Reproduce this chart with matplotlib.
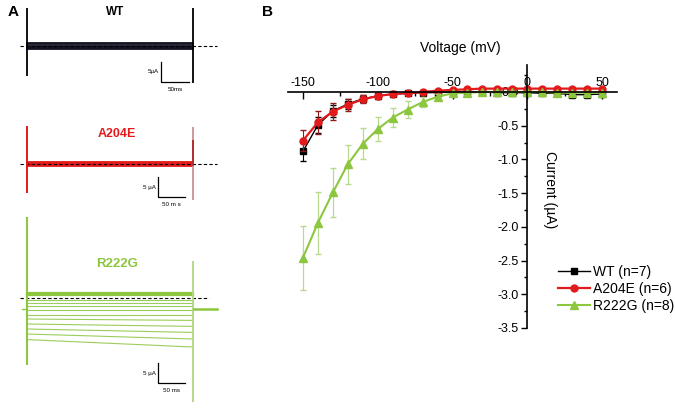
import numpy as np
import matplotlib.pyplot as plt
from matplotlib.ticker import MultipleLocator

plt.rcParams['font.family'] = ['Liberation Sans', 'DejaVu Sans']
plt.rcParams['axes.unicode_minus'] = False

# ---- panel B : I-V data (uA) ----
voltage = [-150, -140, -130, -120, -110, -100, -90, -80, -70, -60, -50,
           -40, -30, -20, -10, 0, 10, 20, 30, 40, 50]
wt_mean = [-0.88, -0.49, -0.28, -0.18, -0.10, -0.06, -0.03, -0.02, -0.01, -0.01, 0.0,
           0.0, 0.0, -0.01, -0.01, -0.01, -0.02, -0.02, -0.04, -0.04, -0.03]
wt_sem = [0.14, 0.12, 0.09, 0.07, 0.05, 0.03, 0.02, 0.02, 0.01, 0.01, 0.01,
          0.01, 0.01, 0.01, 0.01, 0.01, 0.01, 0.01, 0.01, 0.01, 0.01]
a204e_mean = [-0.72, -0.45, -0.29, -0.19, -0.11, -0.06, -0.03, -0.02, 0.0, 0.02, 0.03,
              0.04, 0.05, 0.05, 0.05, 0.05, 0.05, 0.05, 0.05, 0.05, 0.05]
a204e_sem = [0.15, 0.17, 0.12, 0.09, 0.06, 0.04, 0.02, 0.02, 0.01, 0.01, 0.01,
             0.01, 0.01, 0.01, 0.01, 0.01, 0.01, 0.01, 0.01, 0.01, 0.01]
r222g_mean = [-2.46, -1.94, -1.49, -1.07, -0.77, -0.55, -0.38, -0.26, -0.15, -0.07, -0.02,
              -0.01, 0.0, 0.0, 0.0, 0.0, 0.0, -0.01, -0.01, -0.01, -0.01]
r222g_sem = [0.47, 0.46, 0.36, 0.29, 0.23, 0.18, 0.14, 0.12, 0.07, 0.04, 0.02,
             0.01, 0.01, 0.01, 0.01, 0.01, 0.01, 0.01, 0.01, 0.01, 0.01]

# ---- panel A : raw current traces (uA), 300 ms voltage step ----
step_on, step_off = 0, 300
wt_levels = [0.7, 0.4, 0.1, -0.2, -0.5, -0.8]
a204e_levels = [0.6, 0.3, 0.0, -0.3, -0.6]
r222g_start = [1.3, 1.0, 0.7, -0.6, -1.25, -2.1, -3.1, -4.2, -5.25, -6.5, -7.75, -9.0, -10.4]
r222g_end = [1.3, 1.0, 0.7, -0.6, -1.25, -2.1, -3.1, -4.2, -5.6, -7.1, -8.6, -10.25, -12.25]
wt_spikes = [(9.5, -7.5), (9.5, -9.3)]
a204e_spikes = [(9.5, -7.25), (9.25, -9.0)]
r222g_spikes = [(20.25, -16.75), (9.25, -26.0)]
r222g_tail = -2.75

W, H = 675, 408
fig = plt.figure(figsize=(W / 100, H / 100), dpi=100)


def px_axes(left, top, width, height):
    return fig.add_axes([left / W, 1 - (top + height) / H, width / W, height / H])


def trace_axes(top, height, base):
    # 0.5517 px per ms, 4 px per uA
    ax = px_axes(15, top, 207, height)
    ax.set_xlim(-21.7, 353.3)
    ax.set_ylim(-(height - base) / 4, base / 4)
    ax.axis('off')
    return ax


def scale_bar(ax, t0, i0, ua_text, ms_text):
    ax.plot([t0, t0, t0 + 50], [i0 + 5, i0, i0], color='black', lw=0.9)
    ax.text(t0 - 4, i0 + 2.5, ua_text, fontsize=4.5, ha='right', va='center')
    ax.text(t0 + 25, i0 - 1.3, ms_text, fontsize=4.5, ha='center', va='top')


# WT
ax1 = trace_axes(0, 100, 46)
for lv in wt_levels:
    ax1.plot([step_on, step_off], [lv, lv], color='#111122', lw=1.3)
ax1.plot([-12, 345], [0, 0], color='black', lw=0.8, ls=(0, (3, 2)))
ax1.vlines([step_on, step_off], [s[1] for s in wt_spikes], [s[0] for s in wt_spikes],
           color='black', lw=1.3)
ax1.text(160, 8.5, 'WT', fontsize=8.5, fontweight='bold', ha='center', va='center')
scale_bar(ax1, 243, -9, '5µA', '50ms')

# A204E
ax2 = trace_axes(112, 100, 52)
for lv in a204e_levels:
    ax2.plot([step_on, step_off], [lv, lv], color='#e31a1c', lw=1.3)
ax2.plot([-12, 345], [0, 0], color='black', lw=0.8, ls=(0, (3, 2)))
ax2.vlines(step_on, a204e_spikes[0][1], a204e_spikes[0][0], color='#e31a1c', lw=1.4)
ax2.vlines(step_off, a204e_spikes[1][1], a204e_spikes[1][0], color='#c99a9a', lw=1.4)
ax2.vlines(step_off, -0.5, 6, color='#b01c1c', lw=1.2)
ax2.text(163, 7.5, 'A204E', fontsize=9, fontweight='bold', color='#e31a1c',
         ha='center', va='center')
scale_bar(ax2, 237, -8.25, '5 µA', '50 m s')

# R222G
ax3 = trace_axes(210, 198, 88)
for s, e in zip(r222g_start, r222g_end):
    lw = 1.6 if s > 0 else 0.8
    col = '#8dc63f' if s > 0 else '#9ccc5c'
    ax3.plot([step_on, step_off], [s, e], color=col, lw=lw)
ax3.plot([-13, 330], [0, 0], color='black', lw=0.8, ls=(0, (3, 2)))
ax3.vlines(step_on, r222g_spikes[0][1], r222g_spikes[0][0], color='#8dc63f', lw=1.5)
ax3.vlines(step_off, r222g_spikes[1][1], r222g_spikes[1][0], color='#b5d88a', lw=1.4)
ax3.plot([302, 345], [r222g_tail, r222g_tail], color='#8dc63f', lw=1.8)
ax3.plot([-9, -4], [r222g_tail, r222g_tail], color='#8dc63f', lw=1.0)
ax3.text(163, 8.5, 'R222G', fontsize=9.5, fontweight='bold', color='#8dc63f',
         ha='center', va='center')
scale_bar(ax3, 237, -21.25, '5 µA', '50 ms')

fig.text(8 / W, 1 - 12 / H, 'A', fontsize=11, fontweight='bold', va='center')
fig.text(262 / W, 1 - 12 / H, 'B', fontsize=11, fontweight='bold', va='center')

# ---- panel B ----
ax = px_axes(288, 65, 329, 263)
ax.set_xlim(-160, 60)
ax.set_ylim(-3.5, 0.4)

ax.errorbar(voltage, wt_mean, yerr=wt_sem, fmt='none', ecolor='black', elinewidth=0.8, capsize=2.5)
ax.plot(voltage, wt_mean, color='black', lw=1.0, marker='s', ms=4.5, label='WT (n=7)')
ax.errorbar(voltage, a204e_mean, yerr=a204e_sem, fmt='none', ecolor='#8e1b1b', elinewidth=0.8, capsize=2.5)
ax.plot(voltage, a204e_mean, color='#e31a1c', lw=1.6, marker='o', ms=5, label='A204E (n=6)')
ax.errorbar(voltage, r222g_mean, yerr=r222g_sem, fmt='none', ecolor='#b9d98f', elinewidth=0.9, capsize=2.5)
ax.plot(voltage, r222g_mean, color='#8dc63f', lw=1.5, marker='^', ms=5.5, label='R222G (n=8)')

for side in ['bottom', 'right']:
    ax.spines[side].set_visible(False)
ax.spines['top'].set_position(('data', 0))
ax.spines['left'].set_position(('data', 0))
ax.spines['top'].set_linewidth(1.2)
ax.spines['left'].set_linewidth(1.2)
ax.xaxis.set_ticks_position('top')
ax.yaxis.set_ticks_position('left')
ax.xaxis.set_major_locator(MultipleLocator(50))
ax.xaxis.set_minor_locator(MultipleLocator(25))
ax.yaxis.set_major_locator(MultipleLocator(0.5))
ax.yaxis.set_minor_locator(MultipleLocator(0.25))
ax.set_xticks([-150, -100, -50, 0, 50])
ax.tick_params(axis='x', which='both', direction='in', labelsize=9, pad=2)
ax.tick_params(axis='x', which='major', length=5, width=1)
ax.tick_params(axis='x', which='minor', length=3, width=1)
ax.tick_params(axis='y', which='both', direction='out', labelsize=9, pad=2)
ax.tick_params(axis='y', which='major', length=4, width=1)
ax.tick_params(axis='y', which='minor', length=2.5, width=1)
ax.yaxis.set_major_formatter(lambda v, p: f'{v:.1f}')

ax.text(-45, 0.65, 'Voltage (mV)', fontsize=10, ha='center', va='center', clip_on=False)
ax.text(15, -1.45, 'Current (µA)', fontsize=10, rotation=270, ha='center', va='center')

ax.legend(loc='upper left', bbox_to_anchor=(558 / W, 1 - 265 / H), bbox_transform=fig.transFigure,
          frameon=False, fontsize=10, handlelength=2.3, handletextpad=0.2, labelspacing=0.2,
          borderaxespad=0, borderpad=0)

fig.savefig('out.png', dpi=100)
